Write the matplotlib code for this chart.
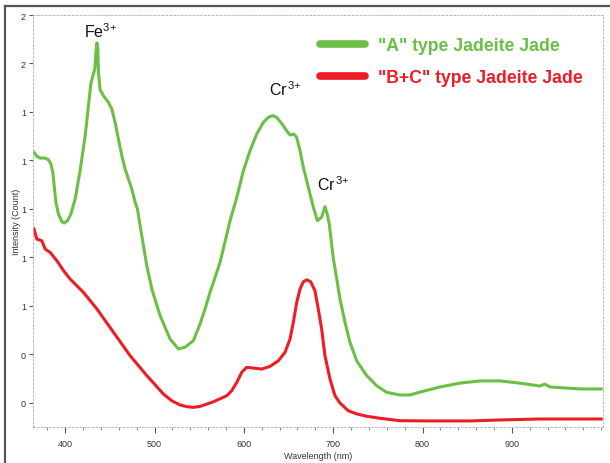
import matplotlib
matplotlib.use("Agg")
import matplotlib.pyplot as plt
from matplotlib.lines import Line2D
from matplotlib.ticker import MultipleLocator

plt.rcParams['font.family'] = ['Liberation Sans', 'DejaVu Sans']
plt.rcParams['mathtext.fontset'] = 'custom'
plt.rcParams['mathtext.rm'] = 'Liberation Sans'
plt.rcParams['mathtext.it'] = 'Liberation Sans:italic'
plt.rcParams['mathtext.bf'] = 'Liberation Sans:bold'

# ---- data ----
green_nm = [365, 368.3, 372, 377.6, 381.3, 384, 386.2, 387.7, 389.6, 392.5, 396.3, 398.9, 402.6,
            406.4, 411.2, 416.8, 422.4, 426.1, 428.7, 431, 433.2, 434.7, 435.5, 436.6, 437.2,
            439.1, 442.8, 448.4, 452.2, 455.9, 459.6, 463.4, 467.1, 470.8, 474.6, 478.3, 480.9,
            483.9, 487.6, 491.4, 497, 506.3, 517.4, 526.7, 534.2, 543.5, 551, 556.6, 562.2,
            567.8, 573.4, 584.6, 592.1, 599.5, 606.9, 614.4, 621.8, 627.4, 632.3, 636.7, 642.3,
            647.9, 651.7, 656.1, 659.1, 662.9, 666.6, 672.2, 677.8, 682.3, 687.1, 690.8, 693.4,
            695.6, 700.2, 704, 707.6, 713.2, 718.8, 726.3, 737.5, 748.7, 759.8, 774.7, 785.9,
            797.1, 819.5, 841.8, 864.2, 886.6, 909, 931.3, 936.9, 942.5, 959.3, 976.1, 1000]
green_val = [1.234, 1.217, 1.210, 1.210, 1.203, 1.186, 1.151, 1.096, 1.028, 0.979, 0.948, 0.942,
             0.952, 0.979, 1.041, 1.160, 1.302, 1.426, 1.515, 1.550, 1.577, 1.660, 1.685, 1.660,
             1.564, 1.493, 1.467, 1.440, 1.412, 1.357, 1.289, 1.220, 1.165, 1.124, 1.082, 1.028,
             1.000, 0.931, 0.849, 0.766, 0.670, 0.560, 0.464, 0.423, 0.430, 0.457, 0.526, 0.588,
             0.657, 0.718, 0.780, 0.952, 1.048, 1.158, 1.240, 1.309, 1.357, 1.378, 1.385, 1.378,
             1.353, 1.323, 1.305, 1.309, 1.296, 1.240, 1.172, 1.089, 1.007, 0.952, 0.966, 1.010,
             0.979, 0.938, 0.794, 0.711, 0.629, 0.533, 0.450, 0.374, 0.313, 0.271, 0.244, 0.233,
             0.233, 0.245, 0.266, 0.282, 0.291, 0.291, 0.282, 0.270, 0.278, 0.266, 0.262, 0.258,
             0.258]

red_nm = [365, 368.3, 373.9, 377.6, 383.2, 390.7, 398.1, 405.6, 420.5, 435.5, 454, 472.7, 491.4,
          510, 519.4, 528.6, 536, 543.5, 551, 565.9, 580.9, 586.5, 592.1, 597.7, 603.2, 610.7, 620,
          629.3, 638.6, 646.1, 651.7, 655.4, 659.2, 662.9, 666.6, 670.4, 674.8, 679.6, 683.3,
          687.1, 690.8, 696.4, 702, 707.6, 716.9, 726.3, 738, 752.3, 774.7, 808.3, 853, 886.6,
          931.3, 964.9, 1000]
red_val = [0.918, 0.876, 0.869, 0.835, 0.821, 0.787, 0.746, 0.711, 0.656, 0.588, 0.492, 0.395,
           0.313, 0.237, 0.209, 0.192, 0.185, 0.182, 0.186, 0.205, 0.230, 0.251, 0.285, 0.327,
           0.347, 0.344, 0.340, 0.351, 0.374, 0.409, 0.464, 0.533, 0.615, 0.670, 0.700, 0.708,
           0.700, 0.663, 0.588, 0.505, 0.395, 0.299, 0.230, 0.200, 0.168, 0.155, 0.145, 0.137,
           0.127, 0.126, 0.126, 0.130, 0.134, 0.134, 0.134]

series_labels = ['"A" type Jadeite Jade', '"B+C" type Jadeite Jade']
series_colors = ['#6cbf45', '#ee1c24']

ytick_vals = [0.2, 0.4, 0.6, 0.8, 1.0, 1.2, 1.4, 1.6, 1.8]
ytick_labels = ['0', '0', '1', '1', '1', '1', '1', '2', '2']
xtick_vals = [400, 500, 600, 700, 800, 900]

annotations = [("Fe$^{3{+}}$", 439, 1.734), ("Cr$^{\\,3{+}}$", 646, 1.495),
               ("Cr$^{\\,3{+}}$", 700, 1.103)]

# ---- figure ----
fig = plt.figure(figsize=(6.1, 4.64), dpi=100)
ax = fig.add_axes([33/610, 36/464, 570/610, 412/464])

ax.plot(green_nm, green_val, color=series_colors[0], lw=2.2, solid_joinstyle='round')
ax.plot(red_nm, red_val, color=series_colors[1], lw=2.2, solid_joinstyle='round')

ax.set_xlim(364, 1002)
ax.set_ylim(0.101, 1.8)
ax.set_yticks(ytick_vals)
ax.set_yticklabels(ytick_labels)
ax.set_xticks(xtick_vals)
ax.xaxis.set_minor_locator(MultipleLocator(20))
ax.tick_params(axis='both', which='major', labelsize=6.5, labelcolor='#333333', color='#555555',
               length=3, width=0.8, pad=2)
ax.tick_params(axis='x', which='major', length=4, pad=5)
ax.tick_params(axis='x', which='minor', length=2, width=0.6, color='#777777')

for s in ax.spines.values():
    s.set_linestyle((0, (2, 2)))
    s.set_color('#bbbbbb')
    s.set_linewidth(0.7)

ax.set_xlabel('Wavelength (nm)', fontsize=6.5, color='#333333', labelpad=2)
ax.set_ylabel('Intensity (Count)', fontsize=6.5, color='#333333')
ax.yaxis.set_label_coords(-0.021, 0.5)

for txt, x, y in annotations:
    ax.text(x, y, txt, fontsize=11.5, ha='center', va='center', color='#111111')

handles = [Line2D([0], [0], color=c, lw=5.5, solid_capstyle='round') for c in series_colors]
leg = ax.legend(handles, series_labels, loc='upper left', bbox_to_anchor=(0.475, 0.985),
                frameon=False, handlelength=2.55, handletextpad=0.75, labelspacing=0.85,
                prop={'weight': 'bold', 'size': 12.7})
for t, c in zip(leg.get_texts(), series_colors):
    t.set_color(c)

# outer frame (top and left)
fig.add_artist(Line2D([5/610, 5/610], [0, 1 - 7/464], transform=fig.transFigure,
                      color='#555555', lw=1.6))
fig.add_artist(Line2D([5/610, 1], [1 - 7/464, 1 - 7/464], transform=fig.transFigure,
                      color='#555555', lw=1.6))

fig.savefig('out.png', dpi=100)
